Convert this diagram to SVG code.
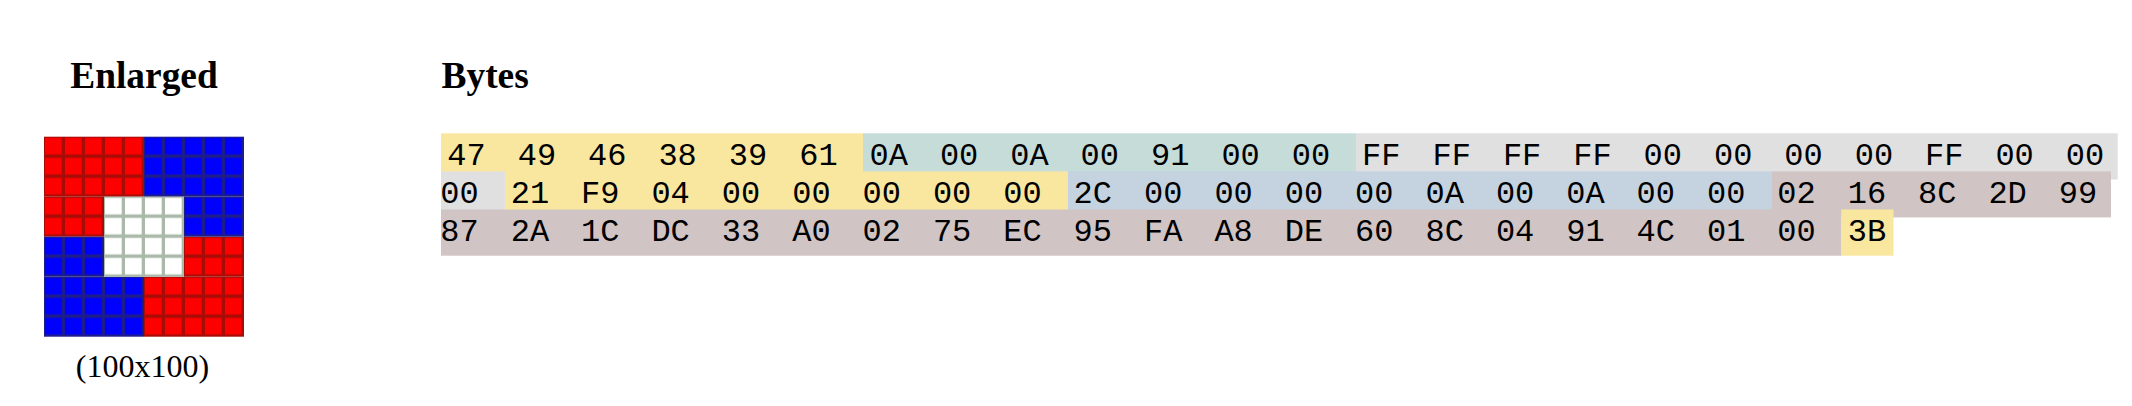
<svg xmlns="http://www.w3.org/2000/svg" width="2132" height="406" viewBox="0 0 2132 406">
<style>
.h{font-family:"Liberation Serif","Times New Roman",serif;font-weight:bold;font-size:37.4px;fill:#000}
.cap{font-family:"Liberation Serif","Times New Roman",serif;font-size:32px;fill:#000}
.b{font-family:"Liberation Mono","Courier New",monospace;font-size:32px;fill:#000}
.y{fill:#f9e79f}.t{fill:#c6dcd9}.g{fill:#e0e0e0}.bl{fill:#c4d3df}.br{fill:#d0c4c4}
</style>
<defs>
<pattern id="pr" patternUnits="userSpaceOnUse" x="44" y="136.7" width="20" height="20"><rect width="20" height="20" fill="#a80c06"/><rect x="1" y="1.2" width="16.7" height="16.5" fill="#ff0000"/></pattern>
<pattern id="pb" patternUnits="userSpaceOnUse" x="44" y="136.7" width="20" height="20"><rect width="20" height="20" fill="#1c1c8c"/><rect x="1" y="1.2" width="16.7" height="16.5" fill="#0000ff"/></pattern>
<pattern id="pw" patternUnits="userSpaceOnUse" x="44" y="136.7" width="20" height="20"><rect width="20" height="20" fill="#aab9aa"/><rect x="1" y="1.2" width="16.7" height="16.5" fill="#ffffff"/></pattern>
</defs>
<rect width="2132" height="406" fill="#fff"/>
<g id="enlarged">
<text class="h" x="144" y="87.5" text-anchor="middle">Enlarged</text>
<g id="grid">
<rect x="44" y="136.7" width="100" height="60" fill="url(#pr)"/>
<rect x="44" y="196.7" width="60" height="40" fill="url(#pr)"/>
<rect x="184" y="236.7" width="60" height="40" fill="url(#pr)"/>
<rect x="144" y="276.7" width="100" height="60" fill="url(#pr)"/>
<rect x="144" y="136.7" width="100" height="60" fill="url(#pb)"/>
<rect x="184" y="196.7" width="60" height="40" fill="url(#pb)"/>
<rect x="44" y="236.7" width="60" height="40" fill="url(#pb)"/>
<rect x="44" y="276.7" width="100" height="60" fill="url(#pb)"/>
<rect x="104" y="196.7" width="80" height="80" fill="url(#pw)"/>
</g>
<text class="cap" x="142.5" y="377" text-anchor="middle">(100x100)</text>
</g>
<g id="bytes">
<text class="h" x="441.5" y="87.5">Bytes</text>
<g id="row1">
<rect class="y" x="441" y="133.3" width="422" height="46.2"/>
<rect class="t" x="863" y="133.3" width="493" height="46.2"/>
<rect class="g" x="1356" y="133.3" width="761.7" height="46.2"/>
<text class="b" y="165"><tspan x="447.3">47</tspan><tspan x="517.7">49</tspan><tspan x="588">46</tspan><tspan x="658.4">38</tspan><tspan x="728.8">39</tspan><tspan x="799.2">61</tspan><tspan x="869.5">0A</tspan><tspan x="939.9">00</tspan><tspan x="1010.3">0A</tspan><tspan x="1080.6">00</tspan><tspan x="1151">91</tspan><tspan x="1221.4">00</tspan><tspan x="1291.7">00</tspan><tspan x="1362.1">FF</tspan><tspan x="1432.5">FF</tspan><tspan x="1502.9">FF</tspan><tspan x="1573.2">FF</tspan><tspan x="1643.6">00</tspan><tspan x="1714">00</tspan><tspan x="1784.3">00</tspan><tspan x="1854.7">00</tspan><tspan x="1925.1">FF</tspan><tspan x="1995.4">00</tspan><tspan x="2065.8">00</tspan></text>
</g>
<g id="row2">
<rect class="g" x="441" y="171.4" width="64" height="46"/>
<rect class="y" x="505" y="171.4" width="563" height="46"/>
<rect class="bl" x="1068" y="171.4" width="704" height="46"/>
<rect class="br" x="1772" y="171.4" width="339" height="46"/>
<text class="b" y="203.2"><tspan x="440.3">00</tspan><tspan x="510.7">21</tspan><tspan x="581">F9</tspan><tspan x="651.4">04</tspan><tspan x="721.8">00</tspan><tspan x="792.2">00</tspan><tspan x="862.5">00</tspan><tspan x="932.9">00</tspan><tspan x="1003.3">00</tspan><tspan x="1073.6">2C</tspan><tspan x="1144">00</tspan><tspan x="1214.4">00</tspan><tspan x="1284.7">00</tspan><tspan x="1355.1">00</tspan><tspan x="1425.5">0A</tspan><tspan x="1495.9">00</tspan><tspan x="1566.2">0A</tspan><tspan x="1636.6">00</tspan><tspan x="1707">00</tspan><tspan x="1777.3">02</tspan><tspan x="1847.7">16</tspan><tspan x="1918.1">8C</tspan><tspan x="1988.4">2D</tspan><tspan x="2058.8">99</tspan></text>
</g>
<g id="row3">
<rect class="br" x="441" y="209.5" width="400.3" height="46.2"/>
<rect class="br" x="841" y="209.5" width="1000.5" height="46.2"/>
<rect class="y" x="1841.3" y="209.5" width="52.2" height="46.2"/>
<text class="b" y="241.4"><tspan x="440.3">87</tspan><tspan x="510.7">2A</tspan><tspan x="581">1C</tspan><tspan x="651.4">DC</tspan><tspan x="721.8">33</tspan><tspan x="792.2">A0</tspan><tspan x="862.5">02</tspan><tspan x="932.9">75</tspan><tspan x="1003.3">EC</tspan><tspan x="1073.6">95</tspan><tspan x="1144">FA</tspan><tspan x="1214.4">A8</tspan><tspan x="1284.7">DE</tspan><tspan x="1355.1">60</tspan><tspan x="1425.5">8C</tspan><tspan x="1495.9">04</tspan><tspan x="1566.2">91</tspan><tspan x="1636.6">4C</tspan><tspan x="1707">01</tspan><tspan x="1777.3">00</tspan><tspan x="1847.7">3B</tspan></text>
</g>
</g>
</svg>
